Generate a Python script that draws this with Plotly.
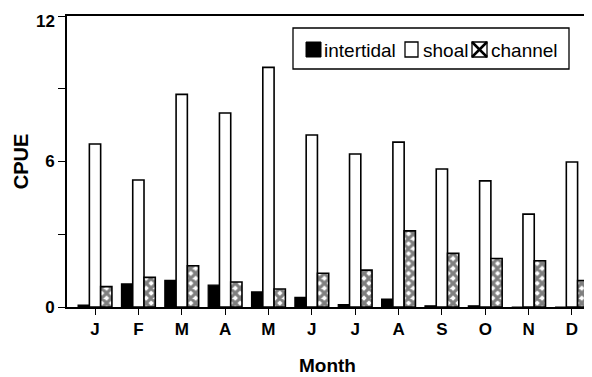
import plotly.graph_objects as go

months = ["J", "F", "M", "A", "M", "J", "J", "A", "S", "O", "N", "D"]
intertidal = [0.08, 0.95, 1.1, 0.9, 0.62, 0.4, 0.1, 0.33, 0.05, 0.05, 0.0, 0.0]
shoal = [6.72, 5.24, 8.77, 8.0, 9.88, 7.09, 6.31, 6.8, 5.69, 5.2, 3.83, 5.98]
channel = [0.84, 1.22, 1.7, 1.03, 0.74, 1.39, 1.52, 3.14, 2.21, 2.0, 1.91, 1.09]
series_names = ["intertidal", "shoal", "channel"]
y_ticks = [0, 3, 6, 9, 12]
y_ticktext = ["0", "", "6", "", "12"]

xs = list(range(len(months)))
FONT = "Liberation Sans, Arial, sans-serif"

# the page body has an 8px margin, so the figure starts at (8, 8) in the window
OFF = 8
W, H = 592 - OFF, 377 - OFF
L, R, T, B = 59, 4, 8, 70
PW, PH = W - L - R, H - T - B


def px(x):  # window pixel -> paper
    return (x - OFF - L) / PW


def py(y):
    return (OFF + H - B - y) / PH


fig = go.Figure()
fig.add_trace(go.Bar(x=xs, y=intertidal, name=series_names[0],
                     marker=dict(color="black", line=dict(color="black", width=1.2))))
fig.add_trace(go.Bar(x=xs, y=shoal, name=series_names[1],
                     marker=dict(color="white", line=dict(color="black", width=1.6))))
fig.add_trace(go.Bar(x=xs, y=channel, name=series_names[2],
                     marker=dict(color="white", line=dict(color="black", width=1.6),
                                 pattern=dict(shape="x", fgcolor="black", bgcolor="white",
                                              size=7, solidity=0.7))))

# manual compact legend, like the original
shapes = []
shapes.append(dict(type="rect", xref="paper", yref="paper",
                   x0=px(293), x1=px(569), y0=py(69), y1=py(28),
                   line=dict(color="black", width=1.3), fillcolor="white", layer="above"))
sq_y0, sq_y1 = py(57), py(42)
shapes.append(dict(type="rect", xref="paper", yref="paper", x0=px(306), x1=px(321),
                   y0=sq_y0, y1=sq_y1, line=dict(color="black", width=1),
                   fillcolor="black", layer="above"))
shapes.append(dict(type="rect", xref="paper", yref="paper", x0=px(405), x1=px(418),
                   y0=sq_y0, y1=sq_y1, line=dict(color="black", width=1.3),
                   fillcolor="white", layer="above"))
shapes.append(dict(type="rect", xref="paper", yref="paper", x0=px(472), x1=px(487),
                   y0=sq_y0, y1=sq_y1, line=dict(color="black", width=1.3),
                   fillcolor="white", layer="above"))
shapes.append(dict(type="line", xref="paper", yref="paper", x0=px(472), x1=px(487),
                   y0=sq_y0, y1=sq_y1, line=dict(color="black", width=2.5), layer="above"))
shapes.append(dict(type="line", xref="paper", yref="paper", x0=px(472), x1=px(487),
                   y0=sq_y1, y1=sq_y0, line=dict(color="black", width=2.5), layer="above"))

annotations = []
for name, xpix in zip(series_names, [322, 421, 489]):
    annotations.append(dict(text=name, xref="paper", yref="paper", x=px(xpix), y=py(50),
                            xanchor="left", yanchor="middle", showarrow=False,
                            font=dict(size=19, family=FONT, color="black")))

# top tick label drawn as an annotation so it stays inside the page edge
annotations.append(dict(text=y_ticktext[-1], xref="paper", yref="paper",
                        x=px(57), y=py(10), xanchor="right", yanchor="top",
                        showarrow=False,
                        font=dict(size=17, family=FONT, color="black", weight="bold")))
axis_ticktext = y_ticktext[:-1] + [""]

fig.update_layout(
    width=W, height=H,
    margin=dict(l=L, r=R, t=T, b=B),
    paper_bgcolor="white", plot_bgcolor="white",
    barmode="group", bargap=0.22, bargroupgap=0.0,
    font=dict(family=FONT, color="black", size=15),
    showlegend=False,
    shapes=shapes, annotations=annotations,
    xaxis=dict(range=[-0.646, 11.37], tickvals=xs, ticktext=months,
               showline=True, linecolor="black", linewidth=1.6, mirror=True,
               ticks="outside", ticklen=6, tickcolor="black",
               tickfont=dict(size=17, family=FONT, weight="bold"),
               showgrid=False, zeroline=False, automargin=False,
               title=dict(text="Month", font=dict(size=19, family=FONT, weight="bold"),
                          standoff=20)),
    yaxis=dict(range=[0, 12], tickvals=y_ticks, ticktext=axis_ticktext,
               showline=True, linecolor="black", linewidth=2,
               ticks="outside", ticklen=7, tickcolor="black",
               tickfont=dict(size=17, family=FONT, weight="bold"),
               showgrid=False, zeroline=False, automargin=False,
               title=dict(text="CPUE", font=dict(size=20, family=FONT, weight="bold"),
                          standoff=11)),
)

fig.write_html("out.html")
